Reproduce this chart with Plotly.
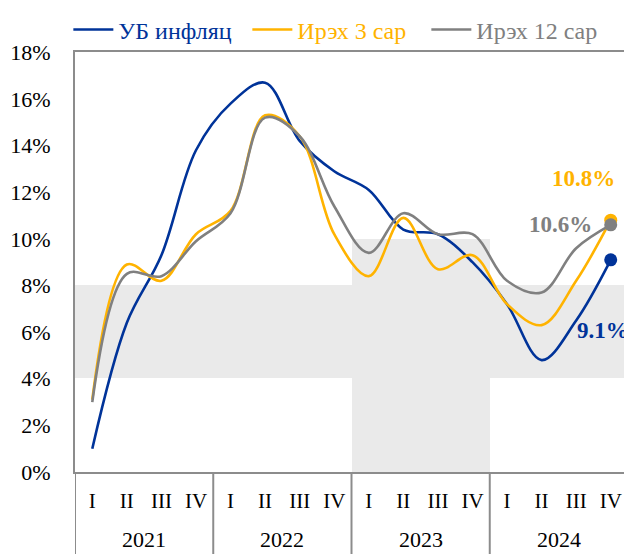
import plotly.graph_objects as go

# Улирал, он
years = ["2021", "2022", "2023", "2024"]
quarters = ["I", "II", "III", "IV"]

# Инфляц болон хүлээлт (%)
ub_inflation = [1.0, 6.4, 9.3, 13.8, 15.8, 16.7, 14.2, 12.9, 12.1, 10.4, 10.2, 9.0, 7.2, 4.8, 6.5, 9.1]
exp_3m = [3.1, 8.9, 8.2, 10.2, 11.2, 15.3, 14.4, 10.2, 8.4, 10.9, 8.7, 9.3, 7.2, 6.3, 8.2, 10.8]
exp_12m = [3.0, 8.5, 8.4, 9.9, 11.1, 15.2, 14.4, 11.4, 9.4, 11.1, 10.2, 10.2, 8.2, 7.7, 9.6, 10.6]

# Зорилтот түвшний муж (он бүрээр)
band_low = [4, 4, 0, 4]
band_high = [8, 8, 10, 8]

BLUE = "#003399"
GOLD = "#FFB300"
GREY = "#808080"
AXIS = "#8C8C8C"
FONT = "Liberation Serif"

nq = len(quarters)
x_idx = list(range(len(years) * nq))
x_q = [q for y in years for q in quarters]
band_base = [band_low[i // nq] for i in x_idx]
band_h = [band_high[i // nq] - band_low[i // nq] for i in x_idx]

fig = go.Figure()

# саарал муж
fig.add_trace(go.Bar(x=x_idx, y=band_h, base=band_base, width=1,
                     marker=dict(color="#EAEAEA", line=dict(width=0)),
                     showlegend=False, hoverinfo="skip"))

series = [("УБ инфляц", ub_inflation, BLUE),
          ("Ирэх 3 сар", exp_3m, GOLD),
          ("Ирэх 12 сар", exp_12m, GREY)]

for name, vals, col in series:
    fig.add_trace(go.Scatter(x=x_idx, y=vals, mode="lines",
                             name='<span style="color:%s">%s</span>' % (col, name),
                             line=dict(color=col, width=2.6, shape="spline", smoothing=1)))
for name, vals, col in series:
    fig.add_trace(go.Scatter(x=[x_idx[-1]], y=[vals[-1]], mode="markers",
                             marker=dict(size=13, color=col), showlegend=False))

# сүүлийн утгын шошго
last = x_idx[-1]
fig.add_annotation(x=last, y=exp_3m[-1], text="<b>%.1f%%</b>" % exp_3m[-1],
                   showarrow=False, xshift=-27, yshift=42,
                   font=dict(color=GOLD, size=23, family=FONT))
fig.add_annotation(x=last, y=exp_12m[-1], text="<b>%.1f%%</b>" % exp_12m[-1],
                   showarrow=False, xshift=-50, yshift=0,
                   font=dict(color=GREY, size=23, family=FONT))
fig.add_annotation(x=last, y=ub_inflation[-1], text="<b>%.1f%%</b>" % ub_inflation[-1],
                   showarrow=False, xshift=-8, yshift=-71,
                   font=dict(color=BLUE, size=23, family=FONT))

# он, хуваагч шугам
for k, yr in enumerate(years):
    fig.add_annotation(x=k * nq + (nq - 1) / 2, y=-0.16, yref="paper", text=yr,
                       showarrow=False, yanchor="middle",
                       font=dict(size=22, family=FONT, color="black"))
for k in range(len(years) + 1):
    fig.add_shape(type="line", xref="x", yref="paper", x0=k * nq - 0.5, x1=k * nq - 0.5,
                  y0=0, y1=-0.25, line=dict(color=AXIS, width=2))

fig.update_layout(
    width=624, height=546,
    margin=dict(l=67, r=4, t=44, b=82),
    plot_bgcolor="white", paper_bgcolor="white",
    font=dict(family=FONT, size=22, color="black"),
    bargap=0,
    legend=dict(orientation="h", xref="container", x=0.527, xanchor="center",
                yref="container", y=0.96, yanchor="middle",
                font=dict(size=24, family=FONT), itemwidth=40,
                entrywidth=124, entrywidthmode="pixels",
                bgcolor="rgba(0,0,0,0)"),
    showlegend=True,
)
fig.update_yaxes(range=[0, 18], dtick=2, ticksuffix="%", showgrid=False,
                 zeroline=False, showline=True, linecolor=AXIS, linewidth=2,
                 mirror=True, ticks="", ticklabelstandoff=18, automargin=False,
                 tickfont=dict(size=22, family=FONT))
fig.update_xaxes(range=[-0.5, x_idx[-1] + 0.5], tickvals=x_idx, ticktext=x_q,
                 showgrid=False, zeroline=False, showline=True, linecolor=AXIS,
                 linewidth=2, mirror=True, ticks="", ticklabelstandoff=9,
                 automargin=False, tickfont=dict(size=21, family=FONT))

fig.write_html("out.html")
